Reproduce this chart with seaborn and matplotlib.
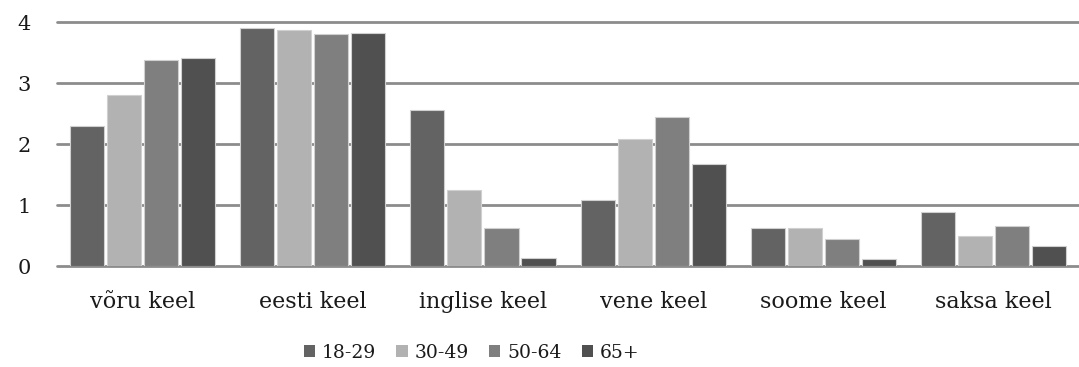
import matplotlib
matplotlib.use("Agg")
import matplotlib.pyplot as plt
import seaborn as sns
import pandas as pd

categories = ["võru keel", "eesti keel", "inglise keel", "vene keel", "soome keel", "saksa keel"]
groups = ["18-29", "30-49", "50-64", "65+"]
v_18_29 = [2.30, 3.91, 2.56, 1.08, 0.62, 0.88]
v_30_49 = [2.81, 3.87, 1.24, 2.08, 0.62, 0.50]
v_50_64 = [3.37, 3.80, 0.63, 2.44, 0.44, 0.66]
v_65 = [3.41, 3.82, 0.14, 1.68, 0.12, 0.33]
colors = ["#636363", "#b2b2b2", "#7f7f7f", "#505050"]

rows = []
for g, vals in zip(groups, [v_18_29, v_30_49, v_50_64, v_65]):
    for c, v in zip(categories, vals):
        rows.append({"keel": c, "vanus": g, "väärtus": v})
df = pd.DataFrame(rows)

sns.set_theme(style="white")
plt.rcParams['font.family'] = ['DejaVu Serif']

fig = plt.figure(figsize=(10.79, 3.67), dpi=100)
ax = fig.add_axes([0.053, 0.275, 0.947, 0.665])

sns.barplot(data=df, x="keel", y="väärtus", hue="vanus", order=categories,
            hue_order=groups, palette=colors, width=0.87, gap=0.08,
            edgecolor="#d0d0d0", linewidth=0.8, ax=ax, zorder=3, legend=True)

ax.set_ylim(0, 4)
ax.set_xlim(-0.5, len(categories) - 0.5)
ax.set_yticks([0, 1, 2, 3, 4])
for y in [0, 1, 2, 3, 4]:
    ax.axhline(y, color="#8c8c8c", linewidth=2.0, zorder=1, clip_on=False)
for s in ax.spines.values():
    s.set_visible(False)
ax.set_xlabel("")
ax.set_ylabel("")
ax.tick_params(axis="both", length=0, colors="#1a1a1a")
ax.tick_params(axis="x", pad=18, labelsize=16)
ax.tick_params(axis="y", pad=19, labelsize=15)

leg = ax.legend(loc="center", bbox_to_anchor=(0.437, 0.038),
                bbox_transform=fig.transFigure, ncol=4,
                frameon=False, fontsize=13.5, handlelength=0.6, handleheight=0.6,
                handletextpad=0.35, columnspacing=1.1)
for t in leg.get_texts():
    t.set_color("#1a1a1a")
for h in leg.legend_handles:
    h.set_edgecolor("none")

fig.savefig("out.png", dpi=100)
